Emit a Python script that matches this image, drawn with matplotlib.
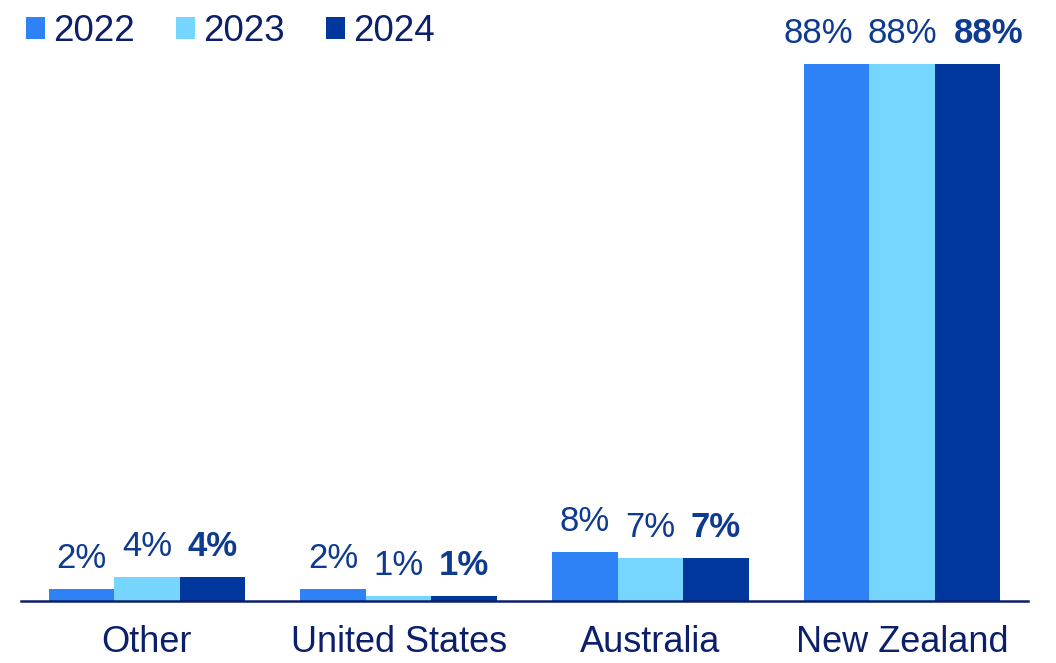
import matplotlib.pyplot as plt
import numpy as np

plt.rcParams['font.family'] = ['Liberation Sans', 'DejaVu Sans']

# Datos
categories = ["Other", "United States", "Australia", "New Zealand"]
years = ["2022", "2023", "2024"]
values_2022 = [2, 2, 8, 88]
values_2023 = [4, 0.8, 7, 88]
values_2024 = [4, 0.8, 7, 88]
labels_2022 = ["2%", "2%", "8%", "88%"]
labels_2023 = ["4%", "1%", "7%", "88%"]
labels_2024 = ["4%", "1%", "7%", "88%"]

colors = ["#2E82F5", "#76D6FF", "#00379C"]
text_dark = "#0B1F6B"
label_col = "#0E3A8F"

W, H = 1056, 663
fig = plt.figure(figsize=(W / 100, H / 100), dpi=100)

# ejes: x de 21 a 1028 px, base en y=601 px
ax_left, ax_right = 21, 1028
ax_bottom, ax_top = 601, 20
ax = fig.add_axes([ax_left / W, (H - ax_bottom) / H,
                   (ax_right - ax_left) / W, (ax_bottom - ax_top) / H])

x = np.arange(len(categories))
bw = 0.26
series = [values_2022, values_2023, values_2024]
series_labels = [labels_2022, labels_2023, labels_2024]
# desplazamiento horizontal (pt) para que no se pisen las etiquetas de la barra alta
nudge = [-13, 0, 15]
for i, (vals, labs) in enumerate(zip(series, series_labels)):
    pos = x + (i - 1) * bw
    ax.bar(pos, vals, width=bw, color=colors[i], label=years[i])
    for j, (px, v, t) in enumerate(zip(pos, vals, labs)):
        dx = nudge[i] if j == len(categories) - 1 else 0
        ax.annotate(t, (px, v), xytext=(dx, 15), textcoords="offset points",
                    ha="center", va="baseline", fontsize=25, color=label_col,
                    fontweight="bold" if i == 2 else "normal",
                    annotation_clip=False)

ax.set_xlim(-0.5, 3.5)
ax.set_ylim(0, 88 * (ax_bottom - ax_top) / (ax_bottom - 64))
ax.set_xticks(x)
ax.set_xticklabels(categories, fontsize=26, color=text_dark)
ax.tick_params(axis="x", length=0, pad=17)
ax.set_yticks([])
for s in ["top", "right", "left"]:
    ax.spines[s].set_visible(False)
ax.spines["bottom"].set_color(text_dark)
ax.spines["bottom"].set_linewidth(1.8)

leg = fig.legend(loc="upper left", bbox_to_anchor=(26 / W, 1 - 14 / H), ncol=3,
                 frameon=False, fontsize=26.5, handlelength=0.52, handleheight=0.52,
                 handletextpad=0.22, columnspacing=1.11, borderpad=0, borderaxespad=0)
for t in leg.get_texts():
    t.set_color(text_dark)

plt.savefig("out.png", dpi=100)
plt.close()
